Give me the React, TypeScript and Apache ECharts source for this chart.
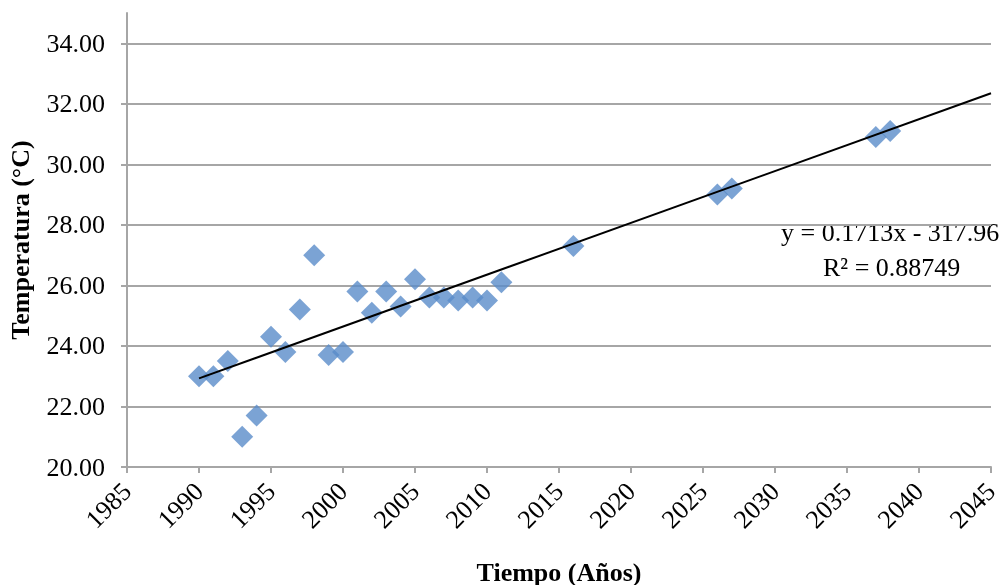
import React, { useEffect, useRef } from "react";
import * as echarts from "echarts";

const years = [1990, 1991, 1992, 1993, 1994, 1995, 1996, 1997, 1998, 1999, 2000, 2001, 2002, 2003, 2004, 2005, 2006, 2007, 2008, 2009, 2010, 2011, 2016, 2026, 2027, 2037, 2038];
const temps = [23.0, 23.0, 23.5, 21.0, 21.7, 24.3, 23.8, 25.2, 27.0, 23.7, 23.8, 25.8, 25.1, 25.8, 25.3, 26.2, 25.6, 25.6, 25.5, 25.6, 25.5, 26.1, 27.3, 29.0, 29.2, 30.9, 31.1];
const slope = 0.1713;
const intercept = -317.96;
const trendYears = [1990, 2045];
const equationText = "y = 0.1713x - 317.96";
const r2Text = "R² = 0.88749";

const FONT = "Liberation Serif";

export default function App() {
  const ref = useRef<HTMLDivElement>(null);
  useEffect(() => {
    if (!ref.current) return;
    const chart = echarts.init(ref.current, null, { renderer: "svg" });
    const gray = "#a6a6a6";
    chart.setOption({
      animation: false,
      grid: { left: 127, right: 17, top: 13, bottom: 118, outerBoundsMode: "none", containLabel: false },
      xAxis: {
        type: "value",
        min: 1985,
        max: 2045,
        interval: 5,
        name: "Tiempo (Años)",
        nameLocation: "middle",
        nameGap: 92,
        nameTextStyle: { fontFamily: FONT, fontSize: 26, fontWeight: "bold", color: "#000" },
        axisLine: { show: true, lineStyle: { color: gray, width: 2 } },
        axisTick: { show: true, length: 6, lineStyle: { color: gray, width: 2 } },
        splitLine: { show: false },
        axisLabel: {
          rotate: 45,
          margin: 20,
          fontFamily: FONT,
          fontSize: 26,
          color: "#000",
          formatter: (v: number) => String(v),
        },
      },
      yAxis: {
        type: "value",
        min: 20,
        max: 35,
        interval: 2,
        name: "Temperatura (°C)",
        nameLocation: "middle",
        nameGap: 94,
        nameTextStyle: { fontFamily: FONT, fontSize: 26, fontWeight: "bold", color: "#000" },
        axisLine: { show: true, lineStyle: { color: gray, width: 2 } },
        axisTick: { show: true, length: 6, lineStyle: { color: gray, width: 2 } },
        splitLine: { show: true, showMaxLine: false, lineStyle: { color: gray, width: 2 } },
        axisLabel: {
          margin: 22,
          showMaxLabel: false,
          fontFamily: FONT,
          fontSize: 26,
          color: "#000",
          formatter: (v: number) => v.toFixed(2),
        },
      },
      series: [
        {
          type: "scatter",
          symbol: "diamond",
          symbolSize: 22,
          itemStyle: { color: "#5a8cc9" },
          data: years.map((y, i) => [y, temps[i]]),
          z: 2,
        },
        {
          type: "line",
          showSymbol: false,
          symbol: "none",
          lineStyle: { color: "#000", width: 2 },
          data: trendYears.map((x) => [x, slope * x + intercept]),
          z: 3,
        },
      ],
      graphic: [
        {
          type: "text",
          left: 781,
          top: 219,
          style: { text: equationText, fontFamily: FONT, fontSize: 26, fill: "#000" },
        },
        {
          type: "text",
          left: 823,
          top: 254,
          style: { text: r2Text, fontFamily: FONT, fontSize: 26, fill: "#000" },
        },
      ],
    });
    return () => chart.dispose();
  }, []);
  return (
    <div
      ref={ref}
      style={{ position: "fixed", left: 0, top: 0, width: 1008, height: 585 }}
    />
  );
}
